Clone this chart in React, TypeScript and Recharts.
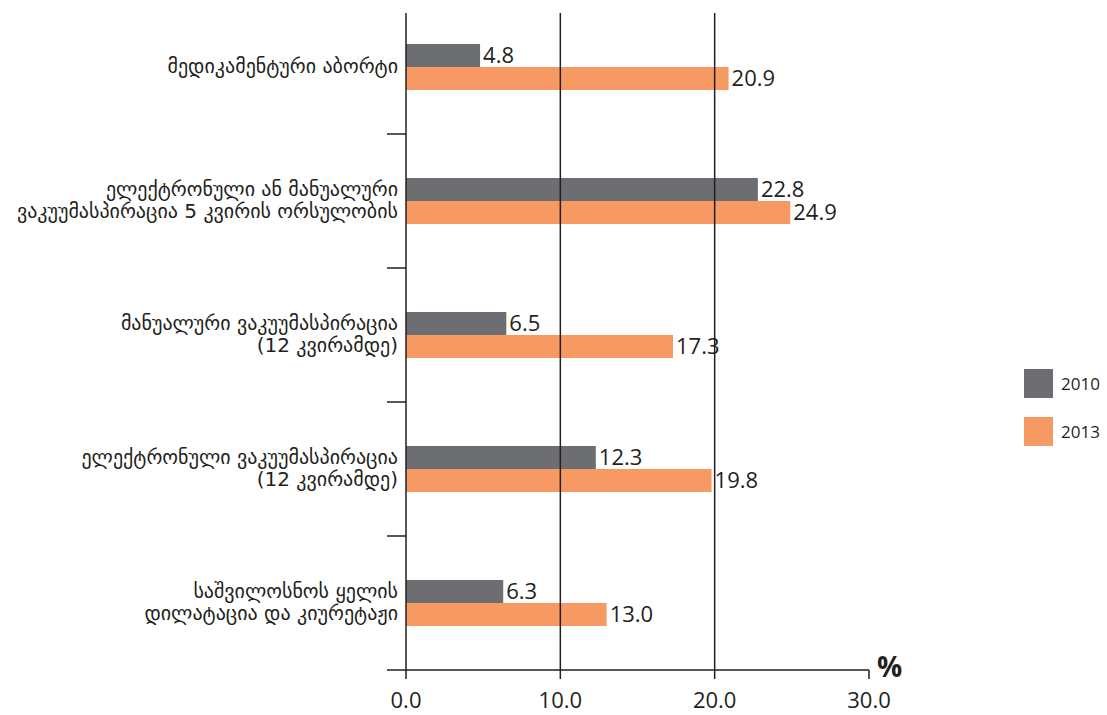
import React from 'react';
import { BarChart, Bar, XAxis, YAxis, ReferenceLine, LabelList, Legend } from 'recharts';

const categories = [
  'მედიკამენტური აბორტი',
  'ელექტრონული ან მანუალური\nვაკუუმასპირაცია 5 კვირის ორსულობის',
  'მანუალური ვაკუუმასპირაცია\n(12 კვირამდე)',
  'ელექტრონული ვაკუუმასპირაცია\n(12 კვირამდე)',
  'საშვილოსნოს ყელის\nდილატაცია და კიურეტაჟი',
];
const values2010 = [4.8, 22.8, 6.5, 12.3, 6.3];
const values2013 = [20.9, 24.9, 17.3, 19.8, 13.0];
const seriesNames = ['2010', '2013'];
const xTicks = [0, 10, 20, 30];
const gridValues = [10, 20];
const unitLabel = '%';

const COLORS = ['#6d6e71', '#f79963'];
const INK = '#231f20';
const FONT_NUM = "'Open Sans', 'DejaVu Sans', sans-serif";
const FONT_GE = "'DejaVu Sans', sans-serif";

const data = categories.map((c, i) => ({ name: c, v2010: values2010[i], v2013: values2013[i] }));

const W = 1107;
const H = 715;
const BOUNDARY_TICK = 19;
const LABEL_GAP = 8;

const CategoryTick = (props: any) => {
  const { x, y, payload } = props;
  const lines = String(payload.value).split('\n');
  const lh = 22;
  const start = y - ((lines.length - 1) * lh) / 2;
  const half = typeof payload.offset === 'number' ? payload.offset : 0;
  const tx = x - LABEL_GAP;
  return (
    <g>
      {half > 0 && (
        <line
          x1={x}
          x2={x - BOUNDARY_TICK}
          y1={y + half}
          y2={y + half}
          stroke={INK}
          strokeWidth={1.5}
        />
      )}
      <text x={tx} y={start} textAnchor="end" fontFamily={FONT_GE} fontSize={20} fill={INK}>
        {lines.map((l, i) => (
          <tspan key={i} x={tx} y={start + i * lh} dy="0.3em">
            {l}
          </tspan>
        ))}
      </text>
    </g>
  );
};

const UnitLabel = (props: any) => {
  const vb = props.viewBox || {};
  return (
    <text
      x={vb.x + vb.width + 8}
      y={vb.y + 7}
      fontFamily={FONT_NUM}
      fontWeight={700}
      fontSize={28}
      fill={INK}
    >
      {unitLabel}
    </text>
  );
};

const LegendContent = () => (
  <div style={{ display: 'flex', flexDirection: 'column', gap: 19 }}>
    {seriesNames.map((s, i) => (
      <div key={s} style={{ display: 'flex', alignItems: 'center' }}>
        <div style={{ width: 29, height: 29, background: COLORS[i] }} />
        <span style={{ marginLeft: 8, fontFamily: FONT_NUM, fontSize: 17, color: INK }}>{s}</span>
      </div>
    ))}
  </div>
);

export default function App() {
  return (
    <div style={{ position: 'absolute', left: 0, top: 0, width: W, height: H, background: '#fff' }}>
      <BarChart
        width={W}
        height={H}
        data={data}
        layout="vertical"
        margin={{ top: 13, right: 238, bottom: 0, left: 0 }}
        barGap={0}
      >
        <XAxis
          type="number"
          domain={[0, 30]}
          ticks={xTicks}
          tickFormatter={(v: number) => v.toFixed(1)}
          height={45}
          tickSize={9}
          tickMargin={13}
          axisLine={{ stroke: INK, strokeWidth: 1.5 }}
          tickLine={{ stroke: INK, strokeWidth: 1.5 }}
          tick={{ fontSize: 22, fill: INK, fontFamily: FONT_NUM }}
          label={<UnitLabel />}
        />
        <YAxis
          type="category"
          dataKey="name"
          width={406}
          padding={{ top: -13, bottom: 0 }}
          tickLine={false}
          tickSize={0}
          tickMargin={0}
          axisLine={{ stroke: INK, strokeWidth: 1.5 }}
          tick={<CategoryTick />}
          interval={0}
        />
        {gridValues.map((g) => (
          <ReferenceLine key={g} x={g} stroke={INK} strokeWidth={1.5} />
        ))}
        <Bar dataKey="v2010" name={seriesNames[0]} fill={COLORS[0]} barSize={23} isAnimationActive={false}>
          <LabelList
            dataKey="v2010"
            position="right"
            offset={3}
            formatter={(v: any) => Number(v).toFixed(1)}
            style={{ fontSize: 22, fill: INK, fontFamily: FONT_NUM }}
          />
        </Bar>
        <Bar dataKey="v2013" name={seriesNames[1]} fill={COLORS[1]} barSize={23} isAnimationActive={false}>
          <LabelList
            dataKey="v2013"
            position="right"
            offset={3}
            formatter={(v: any) => Number(v).toFixed(1)}
            style={{ fontSize: 22, fill: INK, fontFamily: FONT_NUM }}
          />
        </Bar>
        <Legend
          layout="vertical"
          align="center"
          verticalAlign="middle"
          content={<LegendContent />}
          wrapperStyle={{ position: 'absolute', left: 1024, top: 369, width: 83, height: 'auto' }}
        />
      </BarChart>
    </div>
  );
}
